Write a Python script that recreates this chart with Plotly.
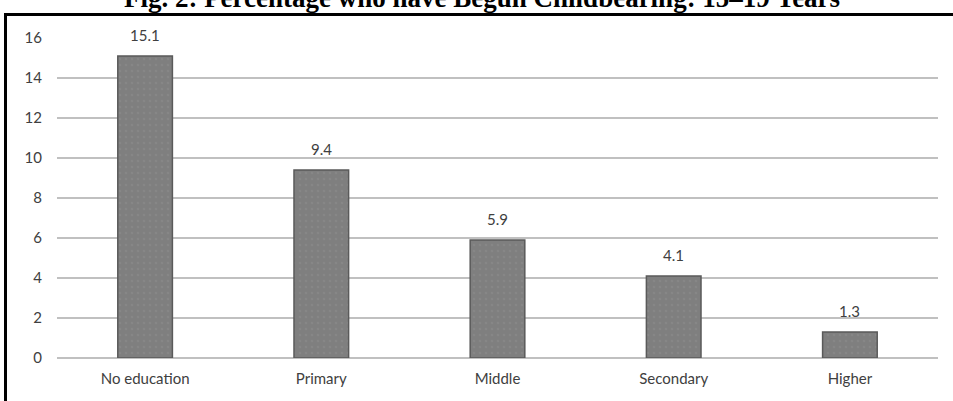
import plotly.graph_objects as go

categories = ["No education", "Primary", "Middle", "Secondary", "Higher"]
values = [15.1, 9.4, 5.9, 4.1, 1.3]
value_labels = ["15.1", "9.4", "5.9", "4.1", "1.3"]
y_ticks = [0, 2, 4, 6, 8, 10, 12, 14, 16]
title_text = "Fig. 2: Percentage who have Begun Childbearing: 15–19 Years"

W, H = 953, 401
L, R, T, B = 57, 15, 38, 43
pw, ph = W - L - R, H - T - B

def px_x(px):
    return (px - L) / pw

def px_y(py):
    return 1 - (py - T) / ph

text_color = "#404040"
font_family = "Lato, 'Open Sans', sans-serif"

fig = go.Figure()
fig.add_trace(go.Bar(
    x=categories,
    y=values,
    marker=dict(
        color="#7f7f7f",
        line=dict(color="#5a5a5a", width=1.5),
        pattern=dict(shape=".", fgcolor="#8e8e8e", bgcolor="#7f7f7f", size=6, solidity=0.12),
    ),
    hoverinfo="x+y",
))

for c, v, t in zip(categories, values, value_labels):
    fig.add_annotation(
        x=c, y=v, text=t, showarrow=False, yanchor="middle", yshift=21,
        font=dict(family=font_family, size=15, color=text_color),
    )

# black frame (left and top visible)
fig.add_shape(
    type="rect", xref="paper", yref="paper",
    x0=px_x(5.5), x1=px_x(970), y0=px_y(14.5), y1=px_y(420),
    line=dict(color="black", width=3), fillcolor="rgba(0,0,0,0)", layer="above",
)

fig.update_layout(
    width=W, height=H,
    margin=dict(l=L, r=R, t=T, b=B, pad=0),
    paper_bgcolor="white", plot_bgcolor="white",
    showlegend=False,
    bargap=0.69,
    title=dict(
        text=f"<b>{title_text}</b>",
        x=482 / W, xanchor="center", xref="container",
        y=1 - 7 / H, yref="container", yanchor="bottom",
        font=dict(family="'Liberation Serif', 'Times New Roman', serif", size=27, color="black"),
    ),
    font=dict(family=font_family, size=15, color=text_color),
)
fig.update_xaxes(
    showgrid=False, showline=False, zeroline=False,
    ticks="", ticklabelstandoff=10,
    tickfont=dict(family=font_family, size=15, color=text_color),
)
fig.update_yaxes(
    range=[0, 16], tickvals=y_ticks,
    showgrid=True, gridcolor="#c0c0c0", gridwidth=1.5,
    zeroline=True, zerolinecolor="#c0c0c0", zerolinewidth=1.5,
    showline=False, ticks="", ticklabelstandoff=14,
    tickfont=dict(family=font_family, size=15, color=text_color),
)

fig.write_html("out.html")
